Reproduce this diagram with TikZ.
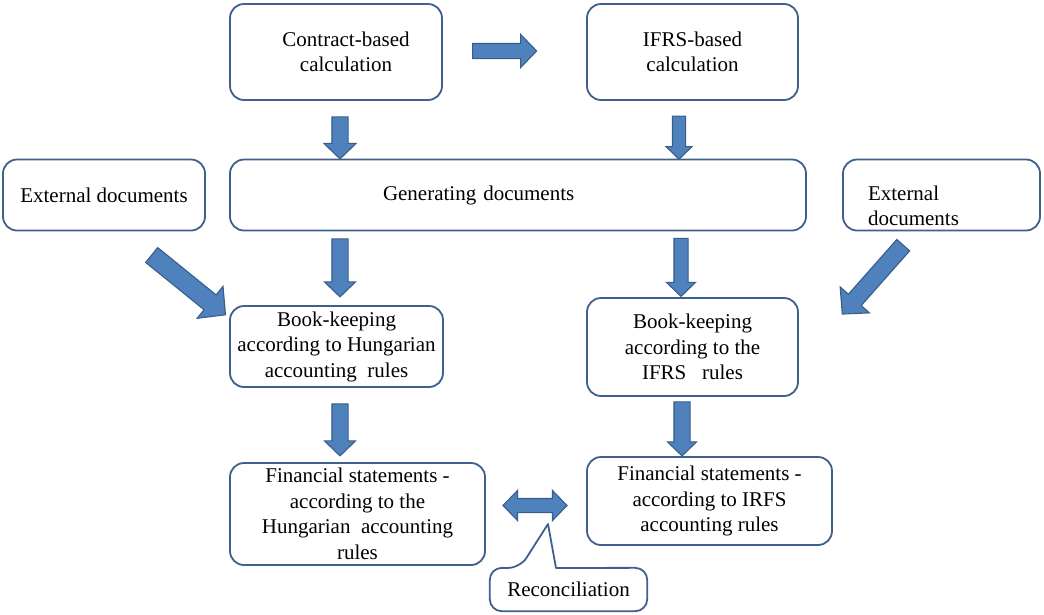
\documentclass[tikz,border=0pt]{standalone}
\usepackage{fontspec}
\setmainfont{Liberation Serif}
\usetikzlibrary{shapes.arrows}
\definecolor{boxblue}{RGB}{62,96,140}
\definecolor{arrowfill}{RGB}{79,129,189}
\definecolor{arrowline}{RGB}{56,93,138}
\newcommand*{\flow}[6][-90]{%
  \node [flowarrow, rotate=#1, minimum height=#4, inner ysep=#5,
         single arrow head extend=#6] (#2) at (#3) {};
}

\begin{document}
\begin{tikzpicture}[x=1pt, y=-1pt,
  every node/.style = {font=\fontsize{21}{25.5}\selectfont},
  box/.style = {draw=boxblue, line width=1.8pt, rounded corners=14pt,
                fill=white, align=center, inner sep=4pt},
  flowarrow/.style = {single arrow, draw=arrowline, line width=1.1pt,
                      fill=arrowfill, inner xsep=0pt, single arrow tip angle=92}]
		\useasboundingbox (0,0) rectangle (1044,614);
		% calculation and documents
		\node[box, minimum width=212, minimum height=96, text width=160] (contract)
			at (336,52) {\hspace*{20pt}Contract-based\\\hspace*{20pt}calculation};
		\node[box, minimum width=211, minimum height=96] (ifrs) at (692.5,52)
			{IFRS-based\\calculation};
		\node[box, minimum width=576, minimum height=71, text width=270, align=left]
			(gen) at (518,195) {Generating documents};
		\node[box, minimum width=202, minimum height=71] (extleft) at (104,195)
			{External documents};
		\node[box, minimum width=197, minimum height=71, text width=147, align=left,
			inner ysep=0pt] (extright) at (941.5,195)
			{\rule{0pt}{36pt}External\\documents};
		% book-keeping and statements
		\node[box, minimum width=213, minimum height=81] (bkhu) at (336.5,346.5)
			{Book-keeping\\according to Hungarian\\accounting\ \ rules};
		\node[box, minimum width=211, minimum height=98] (bkifrs) at (692.5,347)
			{Book-keeping\\according to the\\IFRS\ \ \ rules};
		\node[box, minimum width=255, minimum height=102] (fshu) at (357.5,514)
			{Financial statements -\\according to the\\Hungarian\ \ accounting\\rules};
		\node[box, minimum width=245, minimum height=88] (fsifrs) at (709.5,501)
			{Financial statements -\\according to IRFS\\accounting rules};
		% block arrows
		\flow[0]{calcarrow}{501,51}{64}{7}{9}
		\flow{contractarrow}{340,134}{42}{7.5}{8}
		\flow{ifrsarrow}{679,134.5}{43}{6}{6.5}
		\flow{genhuarrow}{340,264}{58}{7.5}{7.5}
		\flow{genifrsarrow}{681,264}{58}{6.5}{7.5}
		\flow{bkhuarrow}{340,426}{52}{7.5}{7.5}
		\flow{bkifrsarrow}{682,425}{54}{7.5}{6.5}
		\flow[-39]{extleftarrow}{185,282}{95}{9}{11}
		\flow[-131.5]{extrightarrow}{875.5,276.5}{92}{8}{11}
		\node[flowarrow, double arrow, minimum height=64, inner ysep=6.5,
			double arrow head extend=8, double arrow tip angle=92]
			(reconarrow) at (535,505.5) {};
		% reconciliation callout
		\node[minimum width=157, minimum height=43, inner sep=0pt] (recon)
			at (568.5,589.5) {Reconciliation};
		\coordinate (recontip) at (548,524);
		\coordinate (reconbl) at (520,568);
		\coordinate (reconbr) at (556,568);
		\draw[draw=boxblue, line width=1.8pt, line join=round]
			(reconbl) -- (recontip) -- (reconbr) [rounded corners=12pt]
			-- (recon.north east) -- (recon.south east)
			-- (recon.south west) -- (recon.north west) -- cycle;
\end{tikzpicture}
\end{document}
